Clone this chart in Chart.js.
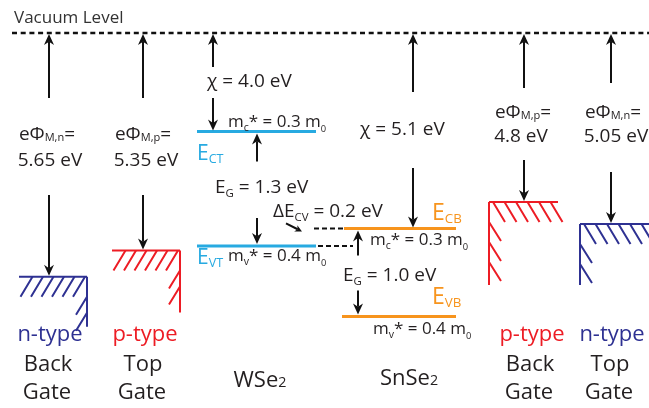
<!DOCTYPE html>
<html><head><meta charset="utf-8">
<script src="https://cdn.jsdelivr.net/npm/chart.js@4.4.1/dist/chart.umd.min.js"></script>
<style>html,body{margin:0;padding:0;background:#fff;}#wrap{width:649px;height:408px;}</style>
</head><body><div id="wrap"><canvas id="c" width="649" height="408"></canvas></div>
<script>
// ---- Data: energies in eV below the vacuum level ----
const materials = ['WSe2', 'SnSe2'];
const electronAffinity = [4.0, 5.1];      // χ  -> conduction band edge
const bandGap = [1.3, 1.0];                // E_G
const valenceBand = [5.3, 6.1];            // χ + E_G
const electronMass = [0.3, 0.3];           // m_c* / m_0
const holeMass = [0.4, 0.4];               // m_v* / m_0
const bandOffsetCV = [0.2];                // ΔE_CV
const gateLabels = [['n-type', 'Back', 'Gate'], ['p-type', 'Top', 'Gate'], ['p-type', 'Back', 'Gate'], ['n-type', 'Top', 'Gate']];
const gateType = ['n', 'p', 'p', 'n'];
const workFunction = [5.65, 5.35, 4.8, 5.05]; // eΦ_M

// ---- Styles / layout (x in diagram units) ----
const COL = { t: '#27aae1', s: '#f7941d', n: '#2e3192', p: '#ed1c24', ink: '#231f20' };
const FONT = '"Open Sans", "Noto Sans", sans-serif';
const bandX = [[197, 316], [344, 456]];
const gateX = [[19, 87], [112, 180], [489, 558], [580, 660]];
const gateArrowX = [49, 143, 524, 611];
const legSide = ['right', 'right', 'left', 'left'];
const legLen = [50, 62, 83, 61];

const datasets = [];
materials.forEach((m, i) => {
  const c = i === 0 ? COL.t : COL.s;
  datasets.push({ data: [{ x: bandX[i][0], y: electronAffinity[i] }, { x: bandX[i][1], y: electronAffinity[i] }], borderColor: c, borderWidth: 3 });
  datasets.push({ data: [{ x: bandX[i][0] - (i ? 2 : 0), y: valenceBand[i] }, { x: bandX[i][1], y: valenceBand[i] }], borderColor: c, borderWidth: 3 });
});
// dashed guide lines for the band offset
datasets.push({ data: [{ x: 314, y: electronAffinity[1] }, { x: 353, y: electronAffinity[1] }], borderColor: '#111', borderWidth: 2, borderDash: [5, 3] });
datasets.push({ data: [{ x: 318, y: valenceBand[0] }, { x: 353, y: valenceBand[0] }], borderColor: '#111', borderWidth: 2, borderDash: [5, 3] });
workFunction.forEach((w, i) => {
  datasets.push({ data: [{ x: gateX[i][0], y: w }, { x: gateX[i][1], y: w }], borderColor: COL[gateType[i]], borderWidth: 2 });
});
datasets.forEach(d => { d.pointRadius = 0; d.fill = false; d.tension = 0; });

function rich(ctx, segs, x, y, size, color, align) {
  const parts = segs.map(s => typeof s === 'string' ? { t: s } : Object.assign({}, s));
  let w = 0;
  parts.forEach(p => { p.sz = size * (p.k || 1); ctx.font = p.sz + 'px ' + FONT; p.w = ctx.measureText(p.t).width; w += p.w; });
  let cx = align === 'center' ? x - w / 2 : (align === 'right' ? x - w : x);
  ctx.fillStyle = color; ctx.textAlign = 'left'; ctx.textBaseline = 'alphabetic';
  parts.forEach(p => { ctx.font = p.sz + 'px ' + FONT; ctx.fillText(p.t, cx, y + (p.dy || 0)); cx += p.w; });
}
function arrow(ctx, x0, y0, x1, y1, hl, hw) {
  hl = hl || 11; hw = hw || 5;
  const a = Math.atan2(y1 - y0, x1 - x0), ux = Math.cos(a), uy = Math.sin(a);
  ctx.strokeStyle = '#111'; ctx.fillStyle = '#111'; ctx.lineWidth = 2; ctx.setLineDash([]);
  ctx.beginPath(); ctx.moveTo(x0, y0); ctx.lineTo(x1 - ux * hl * 0.7, y1 - uy * hl * 0.7); ctx.stroke();
  ctx.beginPath(); ctx.moveTo(x1, y1);
  ctx.lineTo(x1 - ux * hl - uy * hw, y1 - uy * hl + ux * hw);
  ctx.lineTo(x1 - ux * hl * 0.7, y1 - uy * hl * 0.7);
  ctx.lineTo(x1 - ux * hl + uy * hw, y1 - uy * hl - ux * hw);
  ctx.closePath(); ctx.fill();
}
function metal(ctx, X, i, yTop) {
  const [x0, x1] = gateX[i].map(v => X(v));
  const c = COL[gateType[i]], L = legLen[i];
  ctx.strokeStyle = c; ctx.lineWidth = 2; ctx.setLineDash([]);
  ctx.beginPath();
  if (legSide[i] === 'right') {
    ctx.moveTo(x1, yTop); ctx.lineTo(x1, yTop + L);
    for (let x = x1 - 2; x - 12 >= x0; x -= 10.5) { ctx.moveTo(x, yTop); ctx.lineTo(x - 12, yTop + 20); }
    for (let o = 20; o + 16 <= L + 2; o += 16) { ctx.moveTo(x1, yTop + o); ctx.lineTo(x1 - 11, yTop + o + 18); }
  } else {
    ctx.moveTo(x0, yTop); ctx.lineTo(x0, yTop + L);
    for (let x = x0 + 4; x <= x1 - 4; x += 11.5) { ctx.moveTo(x, yTop); ctx.lineTo(x + 12, yTop + 20); }
    for (let o = 20; o + 18 <= L + 2; o += 20) { ctx.moveTo(x0, yTop + o); ctx.lineTo(x0 + 12, yTop + o + 19); }
  }
  ctx.stroke();
}

const diagram = {
  id: 'diagram',
  afterDatasetsDraw(chart) {
    const ctx = chart.ctx, xs = chart.scales.x, ys = chart.scales.y;
    const X = v => xs.getPixelForValue(v), Y = v => ys.getPixelForValue(v);
    const vac = chart.chartArea.top;
    ctx.save();
    // vacuum level (axis is broken between 0 eV and the top of the plot)
    ctx.strokeStyle = '#111'; ctx.lineWidth = 2.6; ctx.setLineDash([5, 3.7]);
    ctx.beginPath(); ctx.moveTo(12, vac); ctx.lineTo(chart.width, vac); ctx.stroke();
    ctx.setLineDash([]);
    rich(ctx, ['Vacuum Level'], 14, 23, 17, '#333', 'left');

    const cT = Y(electronAffinity[0]), vT = Y(valenceBand[0]);
    const cS = Y(electronAffinity[1]), vS = Y(valenceBand[1]);

    // metals
    workFunction.forEach((w, i) => metal(ctx, X, i, Y(w)));

    // gate arrows + labels
    const upEnd = [98, 98, 88, 83], downStart = [195, 195, 160, 172];
    const txtY = [[140, 166], [140, 166], [118, 142], [118, 142]];
    const txtDx = [[-2, 1], [0, 3], [-1, -3], [2, 5]];
    workFunction.forEach((w, i) => {
      const ax = X(gateArrowX[i]);
      arrow(ctx, ax, upEnd[i], ax, vac + 1);
      arrow(ctx, ax, downStart[i], ax, Y(w) - 1);
      const sub = gateType[i] === 'n' ? 'M,n' : 'M,p';
      rich(ctx, ['eΦ', { t: sub, k: 0.58, dy: 1 }, '='], ax + txtDx[i][0], txtY[i][0], 19, COL.ink, 'center');
      rich(ctx, [w.toFixed(w === 4.8 ? 1 : 2) + ' eV'], ax + txtDx[i][1], txtY[i][1], 19, COL.ink, 'center');
      const lx = [50, 145, 532, 612][i];
      rich(ctx, [gateLabels[i][0]], X(lx), 341, 22, COL[gateType[i]], 'center');
      rich(ctx, [gateLabels[i][1]], X(lx - 2), 371, 22, COL.ink, 'center');
      rich(ctx, [gateLabels[i][2]], X(lx - 3), 399, 22, COL.ink, 'center');
    });

    // WSe2
    arrow(ctx, X(213), 67, X(213), vac + 1);
    rich(ctx, ['χ = ' + electronAffinity[0].toFixed(1) + ' eV'], X(207), 87, 19, COL.ink, 'left');
    arrow(ctx, X(213), 98, X(213), cT - 1);
    rich(ctx, ['m', { t: 'c', k: 0.62, dy: 4 }, '* = ' + electronMass[0] + ' m', { t: '0', k: 0.55, dy: 5 }], X(228), cT - 5, 17, COL.ink, 'left');
    rich(ctx, ['E', { t: 'CT', k: 0.6, dy: 3 }], X(197), cT + 28, 21, COL.t, 'left');
    arrow(ctx, X(257), cT + 30, X(257), cT + 2);
    rich(ctx, ['E', { t: 'G', k: 0.6, dy: 4 }, ' = ' + bandGap[0].toFixed(1) + ' eV'], X(215), cT + 61, 19, COL.ink, 'left');
    arrow(ctx, X(257), vT - 28, X(257), vT - 2);
    rich(ctx, ['E', { t: 'VT', k: 0.6, dy: 3 }], X(197), vT + 18, 21, COL.t, 'left');
    rich(ctx, ['m', { t: 'v', k: 0.62, dy: 4 }, '* = ' + holeMass[0] + ' m', { t: '0', k: 0.55, dy: 5 }], X(228), vT + 15, 17, COL.ink, 'left');
    rich(ctx, ['WSe', { t: '2', k: 0.65 }], X(260), 387, 22, COL.ink, 'center');

    // band offset
    rich(ctx, ['ΔE', { t: 'CV', k: 0.6, dy: 4 }, ' = ' + bandOffsetCV[0].toFixed(1) + ' eV'], X(273), cS - 11, 19, COL.ink, 'left');
    arrow(ctx, X(286), cS - 5, X(302), cS + 3, 7, 3.5);

    // SnSe2
    arrow(ctx, X(413), 92, X(413), vac + 1);
    rich(ctx, ['χ = ' + electronAffinity[1].toFixed(1) + ' eV'], X(360), 135, 19, COL.ink, 'left');
    arrow(ctx, X(413), 168, X(413), cS - 1);
    rich(ctx, ['E', { t: 'CB', k: 0.58, dy: 3 }], X(432), cS - 8, 23, COL.s, 'left');
    arrow(ctx, X(358), cS + 27, X(358), cS + 2);
    rich(ctx, ['m', { t: 'c', k: 0.62, dy: 4 }, '* = ' + electronMass[1] + ' m', { t: '0', k: 0.55, dy: 5 }], X(370), cS + 17, 17, COL.ink, 'left');
    rich(ctx, ['E', { t: 'G', k: 0.6, dy: 4 }, ' = ' + bandGap[1].toFixed(1) + ' eV'], X(343), vS - 35, 19, COL.ink, 'left');
    arrow(ctx, X(358), vS - 26, X(358), vS - 2);
    rich(ctx, ['E', { t: 'VB', k: 0.58, dy: 3 }], X(432), vS - 12, 23, COL.s, 'left');
    rich(ctx, ['m', { t: 'v', k: 0.62, dy: 4 }, '* = ' + holeMass[1] + ' m', { t: '0', k: 0.55, dy: 5 }], X(373), vS + 18, 17, COL.ink, 'left');
    rich(ctx, ['SnSe', { t: '2', k: 0.65 }], X(409), 385, 22, COL.ink, 'center');
    ctx.restore();
  }
};

new Chart(document.getElementById('c'), {
  type: 'line',
  data: { datasets },
  options: {
    responsive: false, animation: false, events: [],
    layout: { padding: { top: 33, left: 0, right: 0, bottom: 0 } },
    scales: {
      x: { type: 'linear', min: 0, max: 649, display: false },
      y: { type: 'linear', reverse: true, min: 2.88, max: 7.14, display: false }
    },
    plugins: { legend: { display: false }, tooltip: { enabled: false } }
  },
  plugins: [diagram]
});
</script></body></html>
